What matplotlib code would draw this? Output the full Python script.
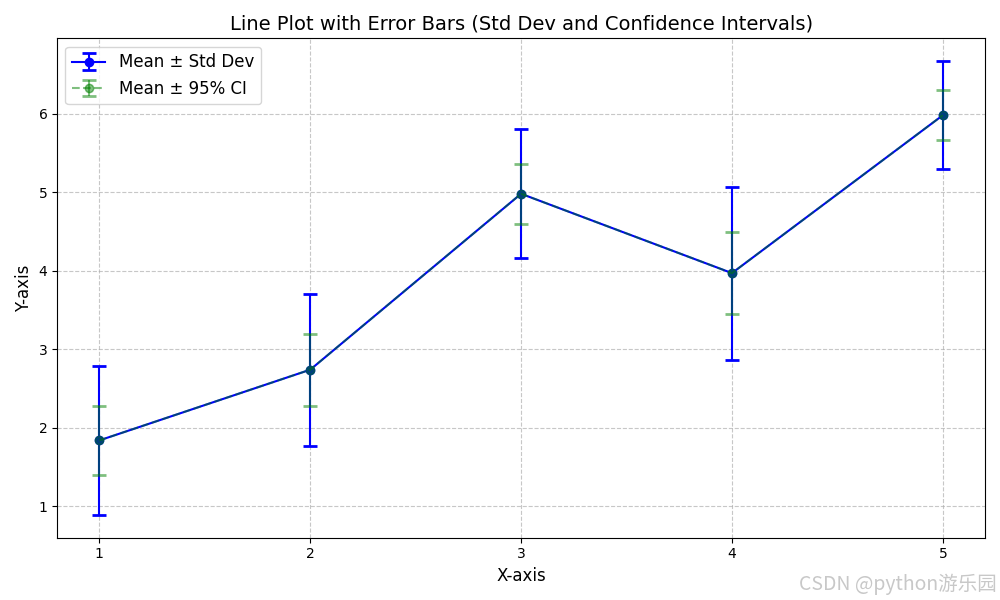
import numpy as np
import matplotlib
matplotlib.use("Agg")
import matplotlib.pyplot as plt

x = [1, 2, 3, 4, 5]
means = [1.84, 2.74, 4.98, 3.97, 5.98]
std_devs = [0.95, 0.97, 0.82, 1.10, 0.69]
ci_95 = [0.44, 0.46, 0.38, 0.52, 0.32]

fig, ax = plt.subplots(figsize=(10, 6), dpi=100)

ax.errorbar(x, means, yerr=std_devs, fmt="-o", color="blue", capsize=5,
            capthick=2, elinewidth=1.5, label="Mean ± Std Dev")
ax.errorbar(x, means, yerr=ci_95, fmt="--o", color="green", capsize=5,
            capthick=2, elinewidth=1.5, alpha=0.5, label="Mean ± 95% CI")

ax.set_title("Line Plot with Error Bars (Std Dev and Confidence Intervals)", fontsize=14)
ax.set_xlabel("X-axis", fontsize=12)
ax.set_ylabel("Y-axis", fontsize=12)
ax.set_xticks(x)
ax.legend(fontsize=12, loc="upper left")
ax.grid(True, linestyle="--", alpha=0.7)

plt.tight_layout()
fig.text(0.997, 0.008, "CSDN @python游乐园", ha="right", va="bottom",
         fontsize=14, color="#c8c8c8",
         family=["Noto Sans CJK SC", "DejaVu Sans"])
plt.savefig("out.png", dpi=100)
